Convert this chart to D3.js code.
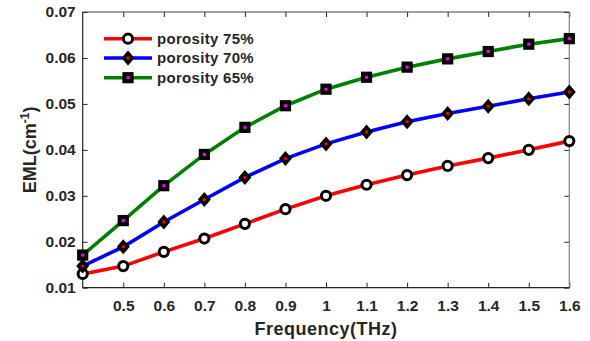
<!DOCTYPE html>
<html><head><meta charset="utf-8">
<script src="https://cdn.jsdelivr.net/npm/d3@7/dist/d3.min.js"></script>
<style>body{margin:0;background:#fff}svg{display:block}text{font-family:"Liberation Sans",Arial,sans-serif;font-weight:bold;fill:#262626}</style>
</head><body><svg id="c" width="590" height="341"></svg>
<script>
const freq = [0.4,0.5,0.6,0.7,0.8,0.9,1.0,1.1,1.2,1.3,1.4,1.5,1.6];
const por75 = [0.0130,0.0147,0.0178,0.0207,0.0239,0.0271,0.0300,0.0324,0.0345,0.0365,0.0382,0.0400,0.0419];
const por70 = [0.0147,0.0189,0.0243,0.0292,0.0340,0.0381,0.0413,0.0439,0.0461,0.0479,0.0495,0.0511,0.0526];
const por65 = [0.0171,0.0246,0.0322,0.0390,0.0449,0.0496,0.0532,0.0558,0.0580,0.0598,0.0614,0.0630,0.0642];
const xTicks = [0.5,0.6,0.7,0.8,0.9,1,1.1,1.2,1.3,1.4,1.5,1.6];
const yTicks = [0.01,0.02,0.03,0.04,0.05,0.06,0.07];
const seriesNames = ["porosity 75%","porosity 70%","porosity 65%"];
const lineColors = ["#ff0000","#0000ff","#008000"];
const faceColors = ["#ffffff","#ff0000","#ff00ff"];
const markers = ["circle","diamond","square"];

const L=82.7,R=569.3,T=12,B=287.7;
const svg=d3.select("#c");
const x=d3.scaleLinear().domain([0.4,1.6]).range([L,R]);
const y=d3.scaleLinear().domain([0.01,0.07]).range([B,T]);
const axisCol="#262626";

function styleAxis(g,hideText){
  g.select(".domain").remove();
  g.selectAll(".tick line").attr("stroke",axisCol).attr("stroke-width",1);
  g.selectAll(".tick text").style("font-size","15.5px").style("font-family","'Liberation Sans',Arial,sans-serif").style("font-weight","bold").attr("fill",axisCol);
  if(hideText) g.selectAll(".tick text").remove();
}
const fmtX=d=>d3.format("")(d);
svg.append("g").attr("transform",`translate(0,${B})`)
  .call(d3.axisBottom(x).tickValues(xTicks).tickFormat(fmtX).tickSizeInner(-5).tickSizeOuter(0).tickPadding(12))
  .call(g=>styleAxis(g,false));
svg.append("g").attr("transform",`translate(0,${T})`)
  .call(d3.axisTop(x).tickValues(xTicks).tickSizeInner(-5).tickSizeOuter(0)).call(g=>styleAxis(g,true));
svg.append("g").attr("transform",`translate(${L},0)`)
  .call(d3.axisLeft(y).tickValues(yTicks).tickFormat(d3.format(".2f")).tickSizeInner(-5).tickSizeOuter(0).tickPadding(7))
  .call(g=>styleAxis(g,false));
svg.append("g").attr("transform",`translate(${R},0)`)
  .call(d3.axisRight(y).tickValues(yTicks).tickSizeInner(-5).tickSizeOuter(0)).call(g=>styleAxis(g,true));
// box
svg.append("line").attr("x1",L).attr("x2",R).attr("y1",T).attr("y2",T).attr("stroke","#404040");
svg.append("line").attr("x1",R).attr("x2",R).attr("y1",T).attr("y2",B).attr("stroke","#808080").attr("stroke-width",1.2);
svg.append("line").attr("x1",L).attr("x2",R).attr("y1",B).attr("y2",B).attr("stroke",axisCol).attr("stroke-width",1.2);
svg.append("line").attr("x1",L).attr("x2",L).attr("y1",T).attr("y2",B).attr("stroke",axisCol).attr("stroke-width",1.2);

const data=[por75,por70,por65];
const line=d3.line().x((d,i)=>x(freq[i])).y(d=>y(d));

function drawMarker(g,type,cx,cy,face){
  if(type==="circle"){
    g.append("circle").attr("cx",cx).attr("cy",cy).attr("r",4.6).attr("fill",face).attr("stroke","#000").attr("stroke-width",3);
  } else if(type==="diamond"){
    g.append("path").attr("d",`M${cx},${cy-7.5}L${cx+6.5},${cy}L${cx},${cy+7.5}L${cx-6.5},${cy}Z`)
      .attr("fill","#000");
    g.append("circle").attr("cx",cx).attr("cy",cy).attr("r",1.7).attr("fill",face);
  } else {
    g.append("rect").attr("x",cx-5.6).attr("y",cy-5.6).attr("width",11.2).attr("height",11.2)
      .attr("fill","#000");
    g.append("rect").attr("x",cx-1.5).attr("y",cy-1.5).attr("width",3).attr("height",3).attr("fill",face);
  }
}

data.forEach((vals,k)=>{
  svg.append("path").datum(vals).attr("d",line).attr("fill","none")
    .attr("stroke",lineColors[k]).attr("stroke-width",3.6);
});
data.forEach((vals,k)=>{
  const g=svg.append("g");
  vals.forEach((v,i)=>drawMarker(g,markers[k],x(freq[i]),y(v),faceColors[k]));
});

// legend
const legY=[38.7,58,77.7];
seriesNames.forEach((n,k)=>{
  const g=svg.append("g");
  g.append("line").attr("x1",104).attr("x2",152).attr("y1",legY[k]).attr("y2",legY[k])
    .attr("stroke",lineColors[k]).attr("stroke-width",3.6);
  drawMarker(g,markers[k],128,legY[k],faceColors[k]);
  g.append("text").attr("x",157).attr("y",legY[k]).attr("dy","0.36em")
    .style("font-size","15px").style("letter-spacing","0.3px").attr("fill","#111").text(n);
});

// axis labels
svg.append("text").attr("x",(L+R)/2).attr("y",335).attr("text-anchor","middle")
  .style("font-size","18px").style("letter-spacing","0.5px").text("Frequency(THz)");
const yl=svg.append("text").attr("transform",`translate(36,${(T+B)/2}) rotate(-90)`)
  .attr("text-anchor","middle").style("font-size","18px");
yl.append("tspan").text("EML(cm");
yl.append("tspan").attr("dy","-7").style("font-size","12px").text("-1");
yl.append("tspan").attr("dy","7").text(")");
</script></body></html>
